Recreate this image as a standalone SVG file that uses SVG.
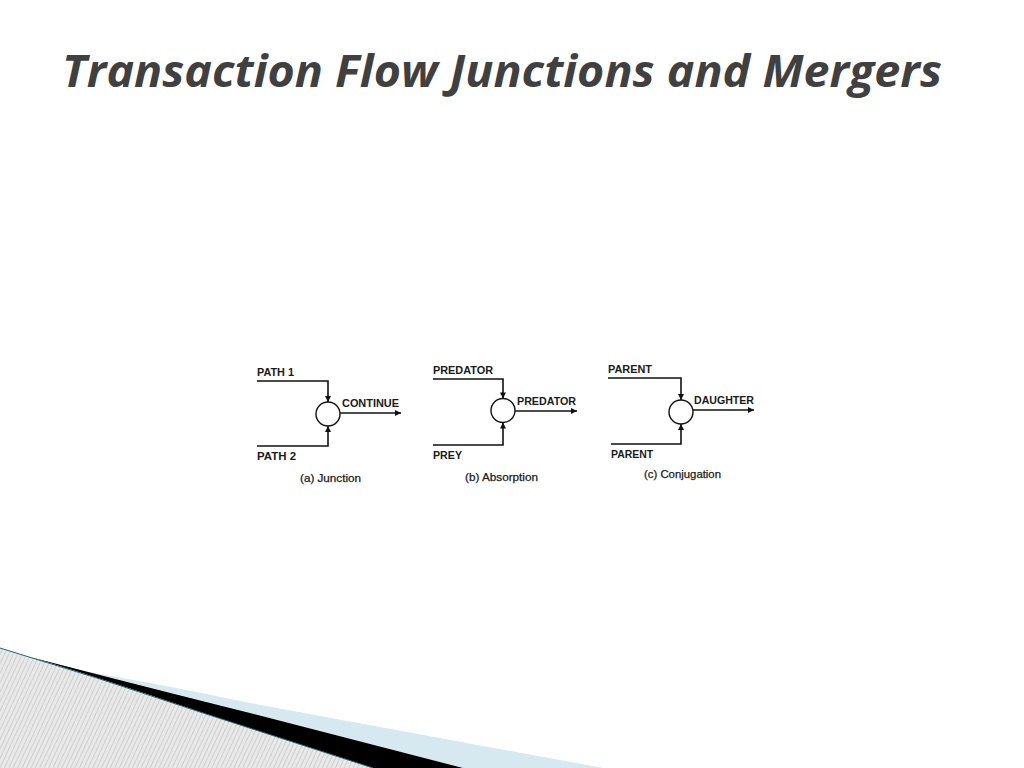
<svg xmlns="http://www.w3.org/2000/svg" width="1024" height="768" viewBox="0 0 1024 768">
<defs>
<style>
.title{font-family:"Open Sans","DejaVu Sans",sans-serif;font-weight:bold;font-style:italic;font-size:44px;fill:#404040}
.lbl{font-family:"Liberation Sans",Arial,sans-serif;font-weight:bold;font-size:10.5px;fill:#1a1a1a}
.cap{font-family:"Liberation Sans",Arial,sans-serif;font-size:10.5px;fill:#1a1a1a;stroke:#1a1a1a;stroke-width:0.25}
.ln{fill:none;stroke:#111;stroke-width:1.6}
.node{fill:#fff;stroke:#111;stroke-width:1.4}
</style>
<marker id="ah" viewBox="0 0 10 10" refX="10" refY="5" markerWidth="7" markerHeight="6" markerUnits="userSpaceOnUse" orient="auto">
<path d="M0,0 L10,5 L0,10 Z" fill="#111"/>
</marker>
<pattern id="hatch" width="4" height="4" patternUnits="userSpaceOnUse" patternTransform="rotate(25)">
<rect width="4" height="4" fill="#e9e9e9"/>
<line x1="0" y1="0" x2="0" y2="4" stroke="#b5b5b5" stroke-width="1"/>
</pattern>
</defs>
<rect width="1024" height="768" fill="#fff"/>

<text class="title" x="62" y="87" textLength="880" lengthAdjust="spacingAndGlyphs">Transaction Flow Junctions and Mergers</text>

<g id="decoration">
<path d="M60,667 Q150,682 250,703 L603,768 L463,768 L250,713 Q150,687 40,660 Z" fill="#d6e8f0"/>
<path d="M30,657 Q150,688 250,713 L463,768 L373,768 L200,712 Q100,678 30,657 Z" fill="#000"/>
<path d="M0,648 Q100,678 200,712 L373,768 L0,768 Z" fill="url(#hatch)"/>
<path d="M0,648 Q100,678 200,712 L373,768" fill="none" stroke="#1f6470" stroke-width="1"/>
</g>

<g id="connectors">
<path class="ln" d="M257,381 H328 V402" marker-end="url(#ah)"/>
<path class="ln" d="M257,446 H328 V426" marker-end="url(#ah)"/>
<path class="ln" d="M340,413 H401" marker-end="url(#ah)"/>
<path class="ln" d="M433,379 H503 V398.5" marker-end="url(#ah)"/>
<path class="ln" d="M433,445 H503 V422.5" marker-end="url(#ah)"/>
<path class="ln" d="M515,411 H577" marker-end="url(#ah)"/>
<path class="ln" d="M608,378 H681 V400" marker-end="url(#ah)"/>
<path class="ln" d="M611,444 H681 V424" marker-end="url(#ah)"/>
<path class="ln" d="M693,410 H754" marker-end="url(#ah)"/>
</g>

<g id="junction">
<circle class="node" cx="328" cy="414" r="12"/>
<text class="lbl" x="257" y="376" textLength="37" lengthAdjust="spacingAndGlyphs">PATH 1</text>
<text class="lbl" x="342" y="407" textLength="57" lengthAdjust="spacingAndGlyphs">CONTINUE</text>
<text class="lbl" x="257" y="460" textLength="39" lengthAdjust="spacingAndGlyphs">PATH 2</text>
<text class="cap" x="300" y="482" textLength="61" lengthAdjust="spacingAndGlyphs">(a)  Junction</text>
</g>

<g id="absorption">
<circle class="node" cx="503" cy="410.5" r="12"/>
<text class="lbl" x="433" y="374" textLength="60" lengthAdjust="spacingAndGlyphs">PREDATOR</text>
<text class="lbl" x="517" y="405" textLength="59" lengthAdjust="spacingAndGlyphs">PREDATOR</text>
<text class="lbl" x="433" y="459" textLength="29" lengthAdjust="spacingAndGlyphs">PREY</text>
<text class="cap" x="465" y="481" textLength="73" lengthAdjust="spacingAndGlyphs">(b)  Absorption</text>
</g>

<g id="conjugation">
<circle class="node" cx="681" cy="412" r="12"/>
<text class="lbl" x="608" y="373" textLength="44" lengthAdjust="spacingAndGlyphs">PARENT</text>
<text class="lbl" x="694" y="404" textLength="60" lengthAdjust="spacingAndGlyphs">DAUGHTER</text>
<text class="lbl" x="611" y="458" textLength="42" lengthAdjust="spacingAndGlyphs">PARENT</text>
<text class="cap" x="644" y="478" textLength="77" lengthAdjust="spacingAndGlyphs">(c)  Conjugation</text>
</g>
</svg>
